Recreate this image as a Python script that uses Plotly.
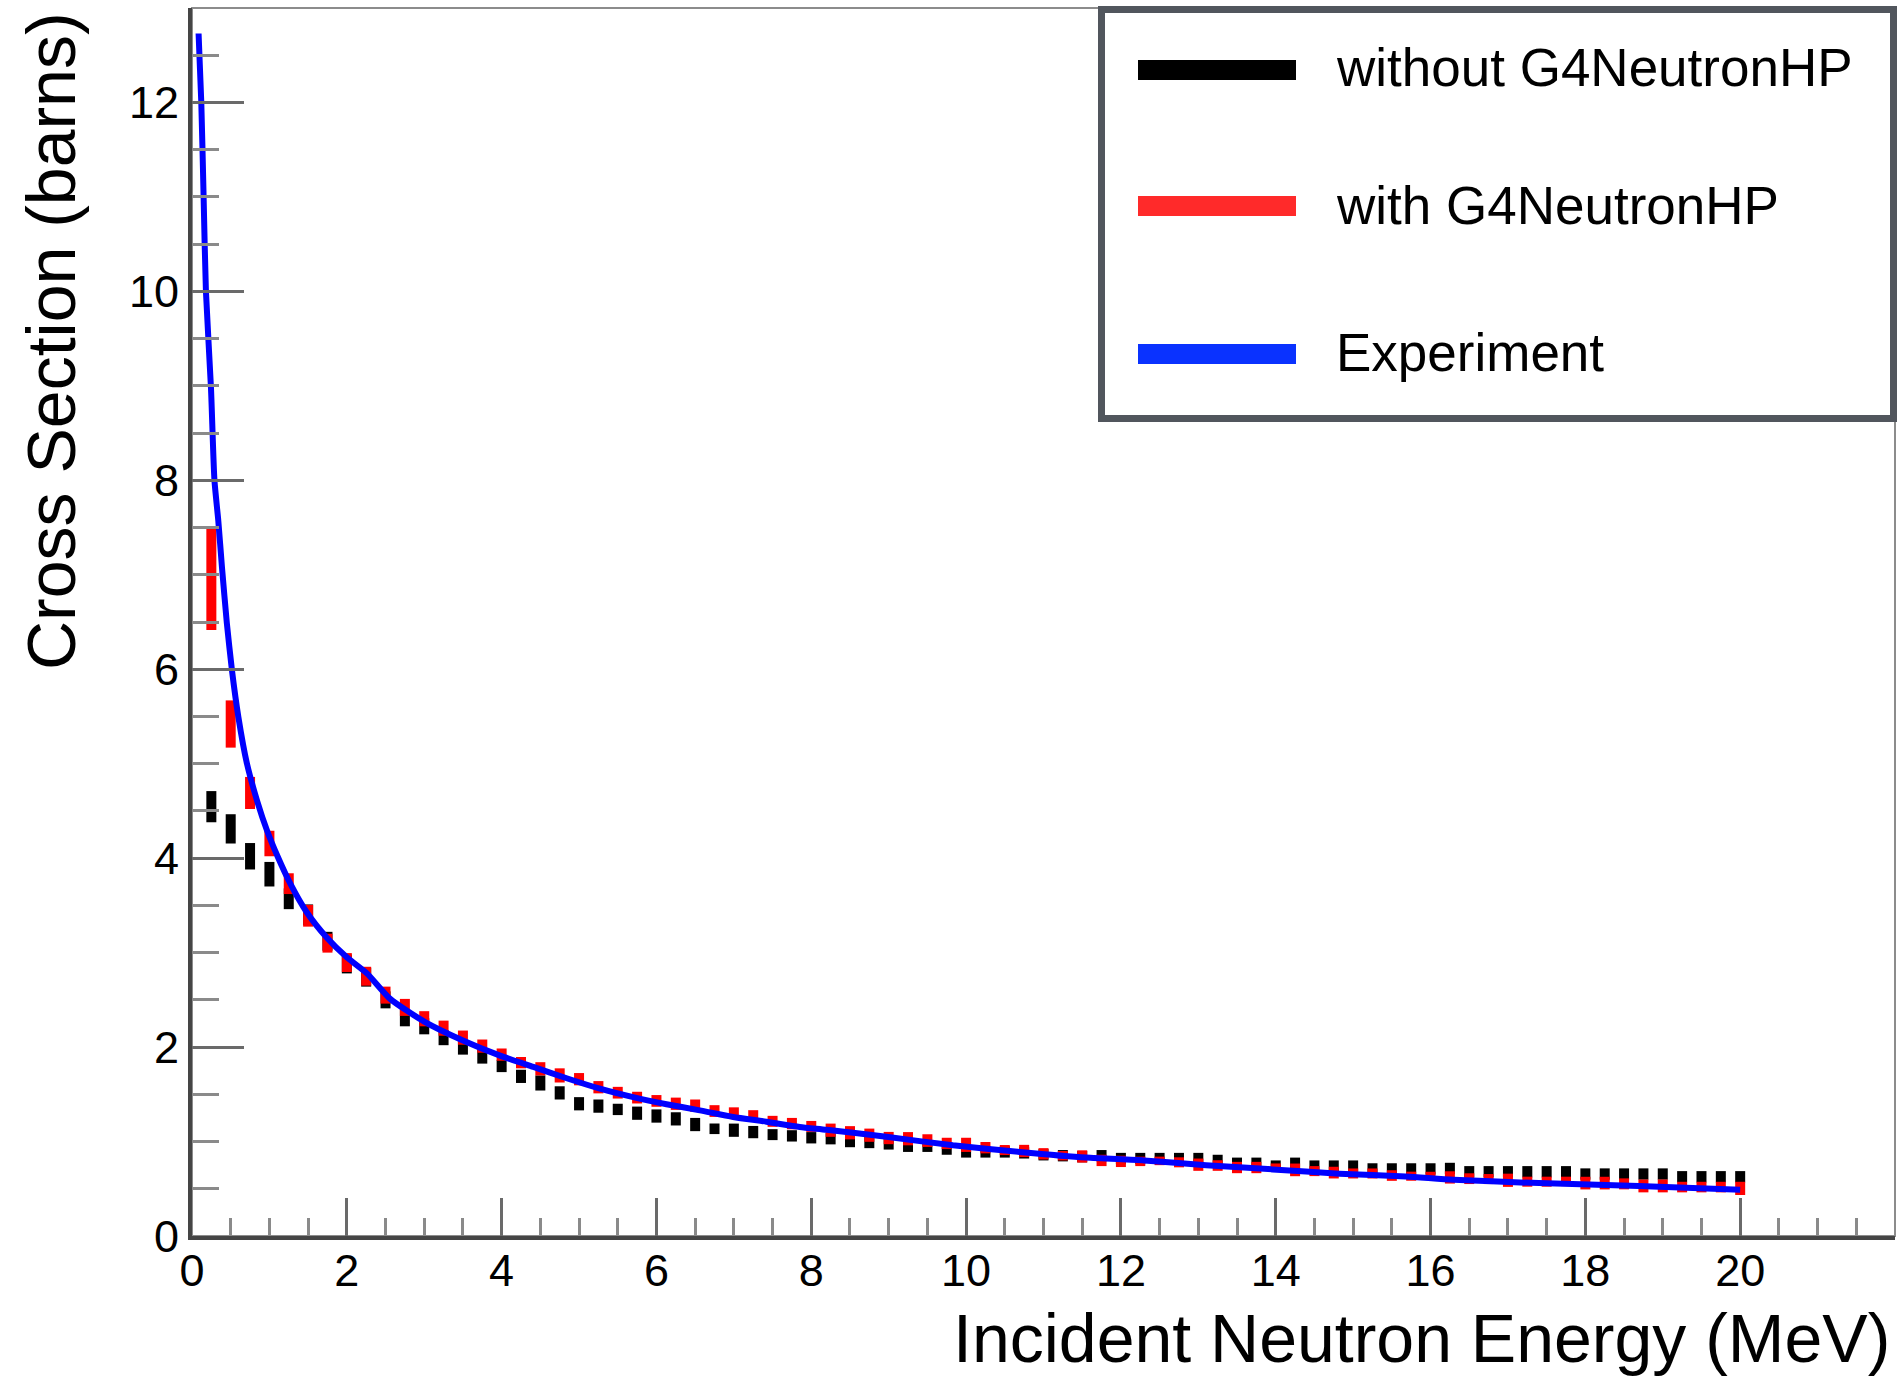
import plotly.graph_objects as go

# ---------------- data ----------------
energy = [0.25, 0.5, 0.75, 1.0, 1.25, 1.5, 1.75, 2.0, 2.25, 2.5,
          2.75, 3.0, 3.25, 3.5, 3.75, 4.0, 4.25, 4.5, 4.75, 5.0,
          5.25, 5.5, 5.75, 6.0, 6.25, 6.5, 6.75, 7.0, 7.25, 7.5,
          7.75, 8.0, 8.25, 8.5, 8.75, 9.0, 9.25, 9.5, 9.75, 10.0,
          10.25, 10.5, 10.75, 11.0, 11.25, 11.5, 11.75, 12.0, 12.25, 12.5,
          12.75, 13.0, 13.25, 13.5, 13.75, 14.0, 14.25, 14.5, 14.75, 15.0,
          15.25, 15.5, 15.75, 16.0, 16.25, 16.5, 16.75, 17.0, 17.25, 17.5,
          17.75, 18.0, 18.25, 18.5, 18.75, 19.0, 19.25, 19.5, 19.75, 20.0]

without_hp = [4.545, 4.31, 4.02, 3.83, 3.57, 3.40, 3.12, 2.88, 2.74, 2.50,
              2.31, 2.22, 2.10, 2.00, 1.90, 1.80, 1.69, 1.62, 1.515, 1.40,
              1.375, 1.34, 1.30, 1.27, 1.24, 1.18, 1.135, 1.12, 1.10, 1.073,
              1.06, 1.04, 1.03, 1.00, 0.99, 0.975, 0.95, 0.95, 0.92, 0.89,
              0.89, 0.89, 0.88, 0.86, 0.85, 0.84, 0.85, 0.82, 0.82, 0.82,
              0.82, 0.82, 0.80, 0.77, 0.77, 0.74, 0.77, 0.74, 0.74, 0.74,
              0.71, 0.71, 0.71, 0.71, 0.715, 0.68, 0.68, 0.68, 0.68, 0.68,
              0.68, 0.656, 0.656, 0.656, 0.656, 0.656, 0.627, 0.627, 0.627, 0.627]
without_hp_err = [0.165, 0.155, 0.14, 0.13, 0.11, 0.11, 0.10, 0.10, 0.10, 0.09,
                  0.09, 0.085, 0.08, 0.08, 0.075, 0.065, 0.07, 0.08, 0.07, 0.07,
                  0.07, 0.06, 0.07, 0.07, 0.07, 0.07, 0.056, 0.07, 0.065, 0.058,
                  0.06, 0.06, 0.06, 0.06, 0.06, 0.06, 0.06, 0.06, 0.06, 0.06,
                  0.06, 0.06, 0.06, 0.06, 0.06, 0.06, 0.06, 0.06, 0.06, 0.06,
                  0.06, 0.06, 0.06, 0.06, 0.06, 0.06, 0.06, 0.06, 0.06, 0.06,
                  0.06, 0.06, 0.06, 0.06, 0.06, 0.06, 0.06, 0.06, 0.06, 0.06,
                  0.06, 0.06, 0.06, 0.06, 0.06, 0.06, 0.06, 0.06, 0.06, 0.06]

with_hp = [6.95, 5.42, 4.69, 4.155, 3.73, 3.39, 3.10, 2.895, 2.75, 2.55,
           2.42, 2.30, 2.20, 2.10, 2.01, 1.92, 1.835, 1.77, 1.70, 1.66,
           1.575, 1.517, 1.465, 1.43, 1.40, 1.38, 1.323, 1.30, 1.27, 1.214,
           1.19, 1.16, 1.12, 1.093, 1.067, 1.037, 1.03, 1.01, 0.98, 0.965,
           0.935, 0.91, 0.90, 0.87, 0.85, 0.842, 0.80, 0.79, 0.79, 0.795,
           0.78, 0.755, 0.746, 0.725, 0.725, 0.724, 0.70, 0.687, 0.671, 0.662,
           0.662, 0.64, 0.633, 0.636, 0.62, 0.607, 0.603, 0.59, 0.575, 0.575,
           0.578, 0.56, 0.56, 0.552, 0.53, 0.53, 0.518, 0.518, 0.518, 0.504]
with_hp_err = [0.535, 0.25, 0.17, 0.135, 0.11, 0.115, 0.10, 0.10, 0.10, 0.09,
               0.09, 0.08, 0.08, 0.075, 0.07, 0.065, 0.06, 0.07, 0.075, 0.065,
               0.065, 0.062, 0.062, 0.062, 0.065, 0.065, 0.062, 0.062, 0.062, 0.058,
               0.06, 0.058, 0.07, 0.07, 0.07, 0.065, 0.07, 0.067, 0.06, 0.075,
               0.06, 0.053, 0.065, 0.06, 0.05, 0.065, 0.06, 0.06, 0.05, 0.045,
               0.053, 0.065, 0.056, 0.06, 0.06, 0.044, 0.067, 0.053, 0.062, 0.053,
               0.053, 0.056, 0.048, 0.044, 0.065, 0.057, 0.053, 0.07, 0.053, 0.053,
               0.05, 0.067, 0.067, 0.058, 0.068, 0.068, 0.056, 0.056, 0.056, 0.07]

exp_energy = [0.085, 0.12, 0.15, 0.18, 0.245, 0.29, 0.34, 0.387, 0.45, 0.516,
              0.60, 0.71, 0.84, 0.97, 1.105, 1.27, 1.48, 1.74, 2.0, 2.26,
              2.56, 3.0, 3.5, 3.98, 4.41, 4.84, 5.27, 5.70, 6.13, 6.56,
              6.99, 7.42, 7.85, 8.2, 8.97, 9.83, 10.69, 11.55, 12.3, 13.1,
              13.96, 14.82, 15.68, 16.3, 17.4, 18.69, 20.0]
exp_xs = [12.73, 12.0, 11.0, 10.0, 8.98, 8.0, 7.57, 7.08, 6.49, 5.99,
          5.49, 5.0, 4.61, 4.29, 4.02, 3.73, 3.43, 3.16, 2.95, 2.78,
          2.51, 2.27, 2.07, 1.91, 1.79, 1.67, 1.56, 1.47, 1.395, 1.33,
          1.26, 1.21, 1.155, 1.125, 1.05, 0.96, 0.89, 0.83, 0.80, 0.75,
          0.705, 0.66, 0.63, 0.595, 0.56, 0.53, 0.49]

x_ticks = [0, 2, 4, 6, 8, 10, 12, 14, 16, 18, 20]
y_ticks = [0, 2, 4, 6, 8, 10, 12]

legend_labels = ["without G4NeutronHP", "with G4NeutronHP", "Experiment"]
legend_colors = ["#000000", "#ff2a2a", "#0a32ff"]

x_title = "Incident Neutron Energy (MeV)"
y_title = "Cross Section (barns)"

FONT = "Liberation Sans, Arial, Helvetica, sans-serif"

# ---------------- figure ----------------
fig = go.Figure()

fig.add_trace(go.Scatter(
    x=energy, y=without_hp, mode="markers",
    marker=dict(size=1, color="rgba(0,0,0,0)"),
    error_y=dict(type="data", array=without_hp_err, thickness=10, width=0, color="#000000"),
    name=legend_labels[0], showlegend=False, hoverinfo="x+y"))

fig.add_trace(go.Scatter(
    x=energy, y=with_hp, mode="markers",
    marker=dict(size=1, color="rgba(0,0,0,0)"),
    error_y=dict(type="data", array=with_hp_err, thickness=10, width=0, color="#ff0000"),
    name=legend_labels[1], showlegend=False, hoverinfo="x+y"))

fig.add_trace(go.Scatter(
    x=exp_energy, y=exp_xs, mode="lines",
    line=dict(color="#0000ff", width=6, shape="spline", smoothing=0.6),
    name=legend_labels[2], showlegend=False))

L, R, T, B = 192, 8, 8, 141
W, H = 1903, 1377
pw, ph = W - L - R, H - T - B


def px_x(p):
    return (p - L) / pw


def px_y(p):
    return (H - B - p) / ph


fig.update_layout(
    width=W, height=H,
    margin=dict(l=L, r=R, t=T, b=B, pad=0),
    paper_bgcolor="white", plot_bgcolor="white",
    font=dict(family=FONT, color="black"),
    showlegend=False,
)

fig.update_xaxes(
    range=[0, 22], tickmode="array", tickvals=x_ticks,
    ticktext=[str(v) for v in x_ticks],
    ticks="inside", ticklen=38, tickwidth=3, tickcolor="#6a6a6a",
    minor=dict(dtick=0.5, tick0=0, ticks="inside", ticklen=18, tickwidth=3, tickcolor="#8a8a8a"),
    showline=True, linewidth=4, linecolor="#454545", mirror=False,
    showgrid=False, zeroline=False,
    ticklabelstandoff=-8,
    tickfont=dict(size=45, family=FONT, color="black"),
)
fig.update_yaxes(
    range=[0, 13], tickmode="array", tickvals=y_ticks,
    ticktext=[str(v) for v in y_ticks],
    ticks="inside", ticklen=52, tickwidth=3, tickcolor="#6a6a6a",
    minor=dict(dtick=0.5, tick0=0, ticks="inside", ticklen=27, tickwidth=3, tickcolor="#8a8a8a"),
    showline=True, linewidth=4, linecolor="#454545", mirror=False,
    showgrid=False, zeroline=False,
    tickfont=dict(size=45, family=FONT, color="black"),
)

# thin frame on top/right
fig.add_shape(type="rect", xref="paper", yref="paper", x0=0, x1=1, y0=0, y1=1,
              line=dict(color="#8c8c8c", width=2), fillcolor="rgba(0,0,0,0)", layer="below")

# axis titles
fig.add_annotation(text=x_title, xref="paper", yref="paper",
                   x=px_x(1892), y=px_y(1338), xanchor="right", yanchor="middle",
                   showarrow=False, font=dict(size=68, family=FONT, color="black"))
fig.add_annotation(text=y_title, xref="paper", yref="paper", textangle=-90,
                   x=px_x(51), y=px_y(10), xanchor="center", yanchor="top",
                   showarrow=False, font=dict(size=68, family=FONT, color="black"))

# legend box
fig.add_shape(type="rect", xref="paper", yref="paper",
              x0=px_x(1101.5), x1=px_x(1893.5), y0=px_y(418.5), y1=px_y(9.5),
              line=dict(color="#51565d", width=7), fillcolor="white", layer="above")
sw_y = [70, 206, 354]
tx_y = [67, 206, 352]
for lab, col, sy, ty in zip(legend_labels, legend_colors, sw_y, tx_y):
    fig.add_shape(type="line", xref="paper", yref="paper",
                  x0=px_x(1138), x1=px_x(1296), y0=px_y(sy), y1=px_y(sy),
                  line=dict(color=col, width=20), layer="above")
    fig.add_annotation(text=lab, xref="paper", yref="paper",
                       x=px_x(1334), y=px_y(ty), xanchor="left", yanchor="middle",
                       showarrow=False, font=dict(size=53, family=FONT, color="black"))

fig.write_html("out.html", config={"displayModeBar": False},
               post_script="document.body.style.margin='0';")
